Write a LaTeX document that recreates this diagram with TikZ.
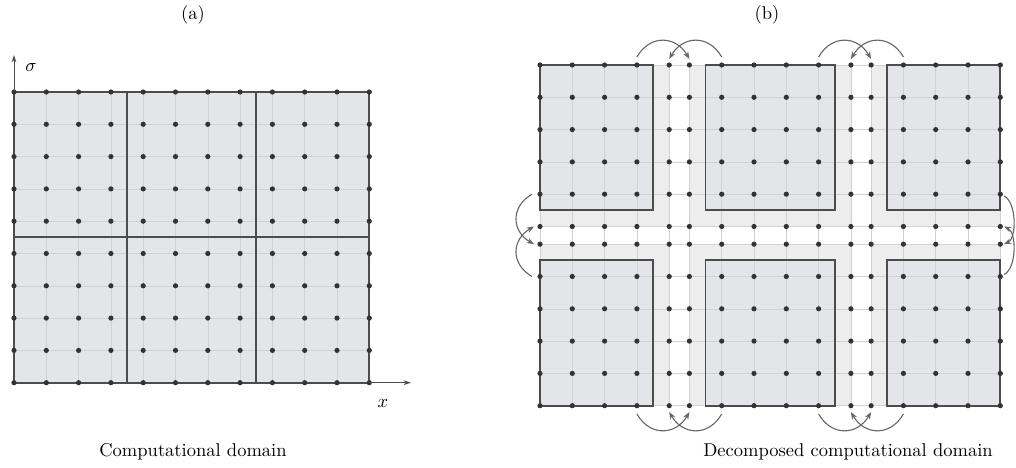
\documentclass[tikz,border=0pt]{standalone}
\usepackage{amsmath}
\usepackage{tikz}
\usetikzlibrary{positioning,arrows.meta}

\begin{document}
\begin{tikzpicture}[
  x=0.54pt, y=0.54pt,
  font=\normalsize,
  gridline/.style={draw=gray!35, line width=0.3pt},
  dot/.style={fill=black!80},
  bound/.style={draw=black!70, line width=1pt},
  cellfill/.style={fill={rgb,255:red,227;green,229;blue,232}},
  ghostfill/.style={fill={rgb,255:red,237;green,237;blue,237}},
  axisarrow/.style={-{Stealth[length=4pt,width=2.5pt]}, draw=black!70, line width=0.5pt},
  xchg/.style={-{Stealth[length=4pt,width=3pt]}, draw=black!60, line width=0.6pt, looseness=1.3},
  captext/.style={inner sep=0pt},
]
\useasboundingbox (0,0) rectangle (1016,-468);
\def\s{32.3}
\def\colsb{540,572.3,604.6,636.9,669.2,689.4,721.7,754.0,786.3,818.6,850.9,871.1,903.4,935.7,968.0,1000.3}
\def\rowsb{65,97.3,129.6,161.9,194.2,226.5,244.2,276.5,308.8,341.1,373.4,405.7}

% (a)
\coordinate (anw) at (14,-92);
\coordinate (ase) at ({14+11*\s},{-92-9*\s});
\fill[cellfill] (anw) rectangle (ase);
\foreach \i in {0,...,11}
  \draw[gridline] ({14+\i*\s},-92) -- ({14+\i*\s},{-92-9*\s});
\foreach \j in {0,...,9}
  \draw[gridline] (14,{-92-\j*\s}) -- ({14+11*\s},{-92-\j*\s});
\draw[bound] (anw) rectangle (ase);
\draw[bound] ({14+3.5*\s},-92) -- ({14+3.5*\s},{-92-9*\s});
\draw[bound] ({14+7.5*\s},-92) -- ({14+7.5*\s},{-92-9*\s});
\draw[bound] (14,{-92-4.5*\s}) -- ({14+11*\s},{-92-4.5*\s});
\foreach \i in {0,...,11}
  \foreach \j in {0,...,9}
    \fill[dot] ({14+\i*\s},{-92-\j*\s}) circle (2.6);
\coordinate (sigend) at (14,-55);
\coordinate (xend) at (411,{-92-9*\s});
\draw[axisarrow] (anw) -- (sigend);
\draw[axisarrow] (ase) -- (xend);
\node (lsig) at (31,-68) {$\sigma$};
\node (lx) at (383,-404) {$x$};
\node[captext] (ta) at (193,-15) {(a)};
\node[captext] (ca) at (193,-452) {Computational domain};

% (b)
\foreach \xa/\xb in {540/669.2, 689.4/850.9, 871.1/1000.3}
  \foreach \ya/\yb in {65/226.5, 244.2/405.7}
    \fill[ghostfill] (\xa,-\ya) rectangle (\xb,-\yb);
\foreach \xa/\xb in {540/653.05, 705.55/834.75, 887.25/1000.3}
  \foreach \ya/\yb in {65/210.35, 260.35/405.7}
    \fill[cellfill] (\xa,-\ya) rectangle (\xb,-\yb);
\foreach \X in \colsb
  \draw[gridline] (\X,-65) -- (\X,-405.7);
\foreach \Y in \rowsb
  \draw[gridline] (540,-\Y) -- (1000.3,-\Y);
\foreach \xa/\xb in {540/653.05, 705.55/834.75, 887.25/1000.3}
  \foreach \ya/\yb in {65/210.35, 260.35/405.7}
    \draw[bound] (\xa,-\ya) rectangle (\xb,-\yb);
\foreach \X in \colsb
  \foreach \Y in \rowsb
    \fill[dot] (\X,-\Y) circle (2.6);

\foreach \k/\xa/\xb/\xc/\xd in {1/636.9/689.4/721.7/669.2, 2/818.6/871.1/903.4/850.9} {
  \coordinate (ua\k) at (\xa,-57);
  \coordinate (ub\k) at (\xb,-59);
  \coordinate (uc\k) at (\xc,-57);
  \coordinate (ud\k) at (\xd,-59);
  \draw[xchg] (ua\k) to[out=60,in=120] (ub\k);
  \draw[xchg] (uc\k) to[out=120,in=60] (ud\k);
  \coordinate (da\k) at (\xa,-414);
  \coordinate (db\k) at (\xb,-412);
  \coordinate (dc\k) at (\xc,-414);
  \coordinate (dd\k) at (\xd,-412);
  \draw[xchg] (da\k) to[out=-60,in=-120] (db\k);
  \draw[xchg] (dc\k) to[out=-120,in=-60] (dd\k);
}
\coordinate (la) at (532,-194.2);
\coordinate (lb) at (534,-244.2);
\coordinate (lc) at (532,-276.5);
\coordinate (ld) at (534,-226.5);
\draw[xchg] (la) to[out=210,in=150] (lb);
\draw[xchg] (lc) to[out=150,in=210] (ld);
\coordinate (ra) at (1004,-196);
\coordinate (rb) at (1004,-244.2);
\coordinate (rc) at (1004,-274.5);
\coordinate (rd) at (1004,-226.5);
\draw[xchg, looseness=0.75] (ra) to[out=-25,in=25] (rb);
\draw[xchg, looseness=0.75] (rc) to[out=25,in=-25] (rd);
\node[captext] (tb) at (767,-15) {(b)};
\node[captext] (cb) at (848,-452) {Decomposed computational domain};
\end{tikzpicture}
\end{document}
